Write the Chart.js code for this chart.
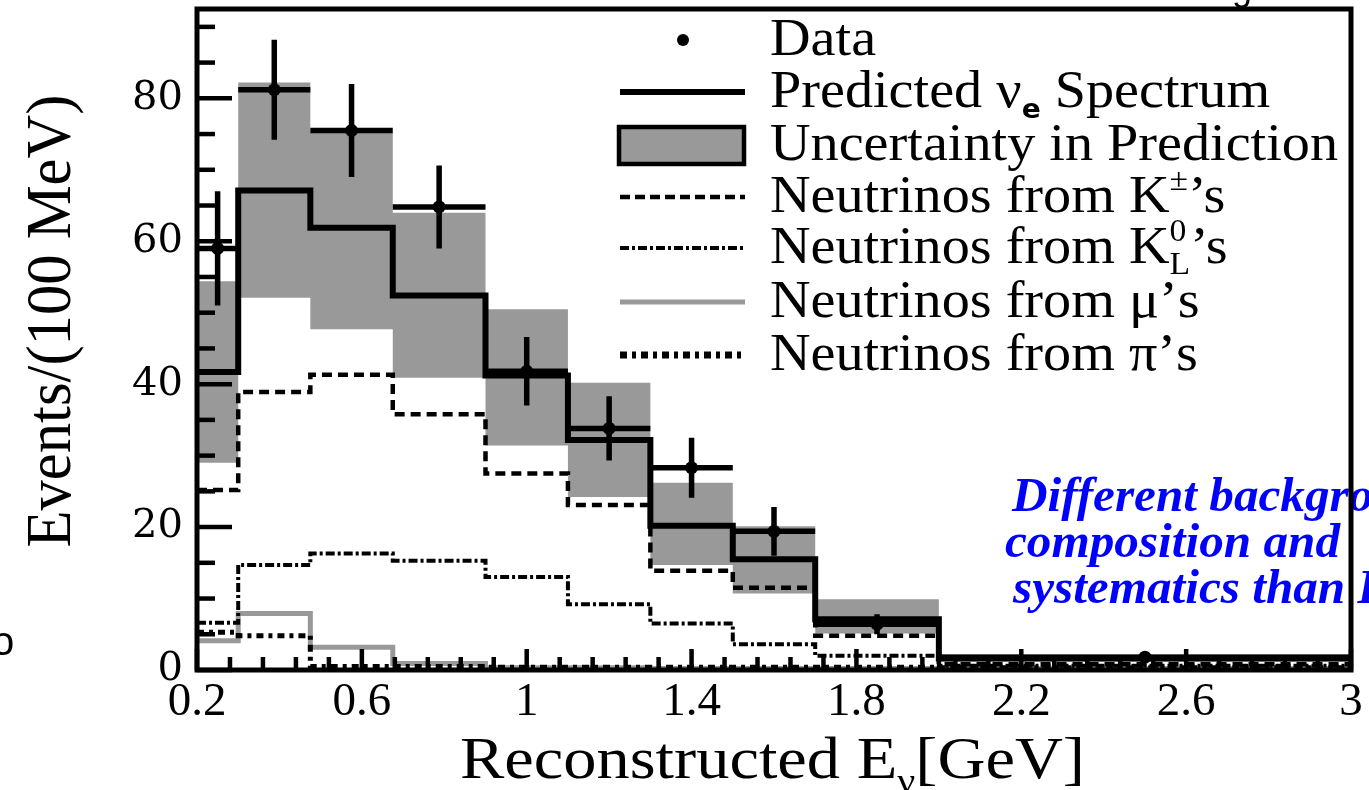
<!DOCTYPE html>
<html><head><meta charset="utf-8">
<script src="https://cdn.jsdelivr.net/npm/chart.js@4.4.1/dist/chart.umd.min.js"></script>
<style>html,body{margin:0;padding:0;background:#fff;overflow:hidden}canvas{display:block}</style>
</head><body>
<canvas id="c" width="1369" height="790"></canvas>
<script>
// ---- data ----
const binEdges    = [0.2, 0.3, 0.475, 0.675, 0.9, 1.1, 1.3, 1.5, 1.7, 2.0, 3.0];
const predicted   = [41.7, 67.1, 61.9, 52.4, 41.2, 32.2, 20.2, 15.5, 7.1, 1.6];
const bandLow     = [29.0, 52.1, 47.7, 40.9, 31.4, 24.2, 14.7, 10.7, 5.1, 1.2];
const bandHigh    = [54.4, 82.2, 75.2, 64.0, 50.5, 40.2, 26.2, 20.1, 9.9, 2.2];
const kaonCharged = [25.2, 38.9, 41.3, 35.8, 27.5, 23.1, 13.9, 11.5, 4.8, 0.8];
const kaonLong    = [6.6, 14.7, 16.3, 15.3, 13.0, 9.2, 6.5, 3.6, 2.0, 0.6];
const muons       = [4.1, 7.9, 3.2, 0.9, 0.3, 0.3, 0.2, 0.2, 0.2, 0.2];
const pions       = [5.3, 4.8, 0.5, 0.5, 0.4, 0.4, 0.4, 0.4, 0.4, 0.3];
const dataX       = [0.25, 0.3875, 0.575, 0.7875, 1.0, 1.2, 1.4, 1.6, 1.85, 2.5];
const dataY       = [59.0, 81.2, 75.5, 64.8, 41.8, 33.8, 28.3, 19.4, 6.4, 1.8];
const dataErr     = [8.0, 7.0, 6.5, 5.8, 4.8, 4.5, 4.2, 3.4, 1.4, 0.5];
const xTickValues = [0.2, 0.6, 1.0, 1.4, 1.8, 2.2, 2.6, 3.0];
const xTickLabels = ['0.2', '0.6', '1', '1.4', '1.8', '2.2', '2.6', '3'];
const yTickValues = [0, 20, 40, 60, 80];
const yTickLabels = ['0', '20', '40', '60', '80'];
const xMinorStep = 0.08, yMinorStep = 5;

const GRAY = '#999999';
const SERIF = '"Liberation Serif", "Times New Roman", serif';

function steps(vals) {
  const pts = vals.map((v, i) => ({ x: binEdges[i], y: v }));
  pts.push({ x: binEdges[binEdges.length - 1], y: vals[vals.length - 1] });
  return pts;
}
const errPts = [];
dataX.forEach((x, i) => {
  errPts.push({ x: binEdges[i], y: dataY[i] }, { x: binEdges[i + 1], y: dataY[i] }, { x: binEdges[i + 1], y: null });
  errPts.push({ x: x, y: dataY[i] - dataErr[i] }, { x: x, y: dataY[i] + dataErr[i] }, { x: x, y: null });
});

function lineDs(label, vals, color, width, dash, order) {
  return { label, data: steps(vals), stepped: true, borderColor: color, borderWidth: width,
    borderDash: dash || [], pointRadius: 0, fill: false, order, borderCapStyle: 'butt', borderJoinStyle: 'miter' };
}

// ---- rich text helper ----
function measureRich(ctx, parts, size, family, weight) {
  let w = 0;
  for (const p of parts) {
    ctx.font = `${p.weight || weight || ''} ${size * (p.s || 1)}px ${p.family || family}`;
    const pw = ctx.measureText(p.t).width;
    if (p.adv !== false) w += pw;
  }
  return w;
}
function drawRich(ctx, parts, x, yb, size, family, sx, weight) {
  ctx.save();
  ctx.translate(x, yb);
  ctx.scale(sx, 1);
  ctx.textBaseline = 'alphabetic';
  ctx.textAlign = 'left';
  let cx = 0;
  for (const p of parts) {
    ctx.font = `${p.weight || weight || ''} ${size * (p.s || 1)}px ${p.family || family}`;
    ctx.fillText(p.t, cx + (p.dx || 0) * size, (p.dy || 0) * size);
    const pw = ctx.measureText(p.t).width;
    if (p.adv !== false) cx += pw;
  }
  ctx.restore();
}

const deco = {
  id: 'deco',
  afterDatasetsDraw(chart) {
    const { ctx, chartArea: a, scales: { x, y } } = chart;
    ctx.save();
    ctx.strokeStyle = '#000';
    ctx.lineCap = 'butt';
    ctx.lineWidth = 4.5;
    // y ticks (inside)
    for (let v = 0; v <= y.max + 1e-9; v += yMinorStep) {
      const py = y.getPixelForValue(v);
      const len = (Math.round(v) % 20 === 0) ? 35 : 18;
      ctx.beginPath(); ctx.moveTo(a.left, py); ctx.lineTo(a.left + len, py); ctx.stroke();
    }
    // x ticks (inside)
    for (let k = 0; ; k++) {
      const v = x.min + k * xMinorStep;
      if (v > x.max + 1e-9) break;
      const px = x.getPixelForValue(v);
      const len = (k % 5 === 0) ? 21 : 13;
      ctx.beginPath(); ctx.moveTo(px, a.bottom); ctx.lineTo(px, a.bottom - len); ctx.stroke();
    }
    // blue annotation
    ctx.fillStyle = '#0000ff';
    const bsize = 49;
    const bw = measureRich(ctx, [{ t: 'composition and' }], bsize, SERIF, 'bold italic');
    const bsx = 335 / bw;
    drawRich(ctx, [{ t: 'Different background' }], 1012, 511, bsize, SERIF, bsx, 'bold italic');
    drawRich(ctx, [{ t: 'composition and' }], 1005, 557, bsize, SERIF, bsx, 'bold italic');
    drawRich(ctx, [{ t: 'systematics than BNB' }], 1013, 603, bsize, SERIF, bsx, 'bold italic');
    // frame
    ctx.lineWidth = 5;
    ctx.strokeRect(a.left, a.top, a.right - a.left, a.bottom - a.top);
    ctx.restore();
  },
  afterDraw(chart) {
    const { ctx } = chart;
    ctx.save();
    ctx.fillStyle = '#000';
    // legend
    const lsize = 53;
    const rows = [
      [{ t: 'Data' }],
      [{ t: 'Predicted \u03BD' }, { t: 'e', s: 0.5, dy: 0.2, family: '"DejaVu Sans", sans-serif', weight: 'bold' }, { t: ' Spectrum' }],
      [{ t: 'Uncertainty in Prediction' }],
      [{ t: 'Neutrinos from K' }, { t: '\u00B1', s: 0.6, dy: -0.42 }, { t: '\u2019s' }],
      [{ t: 'Neutrinos from K' }, { t: '0', s: 0.6, dy: -0.42, adv: false }, { t: 'L', s: 0.6, dy: 0.2 }, { t: '\u2019s' }],
      [{ t: 'Neutrinos from \u03BC\u2019s' }],
      [{ t: 'Neutrinos from \u03C0\u2019s' }]
    ];
    const rowY = [40, 92, 145, 197, 248, 302, 355];
    const lsx = 568 / measureRich(ctx, rows[2], lsize, SERIF);
    rows.forEach((r, i) => drawRich(ctx, r, 770, rowY[i] + 15, lsize, SERIF, lsx));
    // legend symbols
    ctx.beginPath(); ctx.arc(683, rowY[0], 6, 0, Math.PI * 2); ctx.fill();
    ctx.lineCap = 'butt';
    const seg = (y0, w, color, dash) => {
      ctx.strokeStyle = color; ctx.lineWidth = w; ctx.setLineDash(dash || []);
      ctx.beginPath(); ctx.moveTo(620, y0); ctx.lineTo(745, y0); ctx.stroke();
    };
    seg(rowY[1], 6, '#000');
    ctx.setLineDash([]);
    ctx.fillStyle = GRAY; ctx.fillRect(619, 127, 125, 37);
    ctx.strokeStyle = '#000'; ctx.lineWidth = 4.5; ctx.strokeRect(619, 127, 125, 37);
    seg(rowY[3], 4.5, '#000', [10, 5]);
    seg(rowY[4], 4, '#000', [9, 3, 3, 3]);
    seg(rowY[5], 5, GRAY);
    seg(rowY[6], 7, '#000', [7, 5, 4, 5]);
    ctx.setLineDash([]);
    // axis titles
    ctx.fillStyle = '#000';
    const yt = [{ t: 'Events/(100 MeV)' }];
    const ysize = 64;
    const ysx = 453 / measureRich(ctx, yt, ysize, SERIF);
    ctx.save();
    ctx.translate(70, 321 + 453 / 2);
    ctx.rotate(-Math.PI / 2);
    drawRich(ctx, yt, 0, 0, ysize, SERIF, ysx);
    ctx.restore();
    const xt = [{ t: 'Reconstructed E' }, { t: '\u03BD', s: 0.6, dy: 0.25 }, { t: '[GeV]' }];
    const xsize = 60;
    const xsx = 625 / measureRich(ctx, xt, xsize, SERIF);
    drawRich(ctx, xt, 460, 778, xsize, SERIF, xsx);
    // fragments of surrounding slide text
    ctx.font = '40px "Liberation Sans", sans-serif';
    ctx.fillText('o', -8, 655);
    ctx.font = '36px "Liberation Sans", sans-serif';
    ctx.fillText('g', 1232, 0);
    ctx.restore();
  }
};

new Chart(document.getElementById('c'), {
  type: 'line',
  data: {
    datasets: [
      { label: 'Data', data: dataX.map((x, i) => ({ x, y: dataY[i] })), showLine: false,
        pointRadius: 6.5, pointBackgroundColor: '#000', pointBorderColor: '#000', pointBorderWidth: 0, order: 0 },
      { label: 'errors', data: errPts, borderColor: '#000', borderWidth: 5.5, pointRadius: 0,
        spanGaps: false, fill: false, order: 1, borderCapStyle: 'butt' },
      lineDs('Predicted', predicted, '#000', 6, null, 2),
      lineDs('K\u00B1', kaonCharged, '#000', 4.5, [10, 6], 3),
      lineDs('K0L', kaonLong, '#000', 4, [9, 3, 3, 3], 4),
      lineDs('pi', pions, '#000', 5, [7, 5, 4, 5], 5),
      lineDs('mu', muons, GRAY, 5, null, 6),
      { label: 'Uncertainty', data: steps(bandHigh), stepped: true, borderWidth: 0, borderColor: GRAY,
        backgroundColor: GRAY, pointRadius: 0, fill: '+1', order: 10 },
      { label: 'low', data: steps(bandLow), stepped: true, borderWidth: 0, borderColor: GRAY,
        pointRadius: 0, fill: false, order: 11 }
    ]
  },
  options: {
    responsive: false,
    animation: false,
    devicePixelRatio: 1,
    layout: { padding: { top: 9, right: 18, left: 0, bottom: 0 } },
    plugins: { legend: { display: false }, tooltip: { enabled: false } },
    scales: {
      x: {
        type: 'linear', min: 0.2, max: 3.0,
        grid: { display: false, drawTicks: false }, border: { display: false },
        afterBuildTicks: s => { s.ticks = xTickValues.map(v => ({ value: v })); },
        afterFit: s => { s.height = 120; s.paddingLeft = 0; s.paddingRight = 0; },
        ticks: { autoSkip: false, maxRotation: 0, color: '#000', padding: 4,
          font: { family: SERIF, size: 47 }, callback: (v, i) => xTickLabels[i] }
      },
      y: {
        type: 'linear', min: 0, max: 92.5,
        grid: { display: false, drawTicks: false }, border: { display: false },
        afterBuildTicks: s => { s.ticks = yTickValues.map(v => ({ value: v })); },
        afterFit: s => { s.width = 197; s.paddingTop = 0; s.paddingBottom = 0; },
        ticks: { color: '#000', padding: 14, font: { family: '"DejaVu Serif", serif', size: 40 },
          callback: (v, i) => yTickLabels[i] }
      }
    }
  },
  plugins: [deco]
});
</script>
</body></html>
